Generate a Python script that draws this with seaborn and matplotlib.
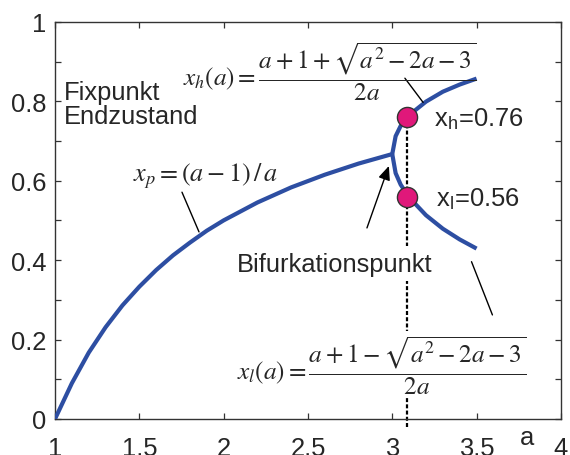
import matplotlib
matplotlib.use("Agg")
import matplotlib.pyplot as plt
from matplotlib.ticker import MultipleLocator
import seaborn as sns
import pandas as pd

# Fixed point branch x_p = (a-1)/a up to the bifurcation at a = 3
a_fix = [1.0, 1.1, 1.2, 1.3, 1.4, 1.5, 1.6, 1.7, 1.8, 1.9, 2.0, 2.2, 2.4, 2.6, 2.8, 3.0]
x_fix = [0.0, 0.09, 0.167, 0.231, 0.286, 0.333, 0.375, 0.412, 0.444, 0.474, 0.5,
         0.545, 0.583, 0.615, 0.643, 0.667]

# Period-2 branches after the bifurcation
a_branch = [3.0, 3.02, 3.05, 3.1, 3.2, 3.3, 3.4, 3.5]
x_high = [0.667, 0.712, 0.738, 0.765, 0.799, 0.824, 0.842, 0.857]
x_low = [0.667, 0.619, 0.59, 0.558, 0.513, 0.479, 0.452, 0.429]

# Marked states at one parameter value
a_mark = 3.09
x_marks = [0.76, 0.56]
mark_names = ["h", "l"]

x_ticks = [1, 1.5, 2, 2.5, 3, 3.5, 4]
x_tick_labels = ["1", "1.5", "2", "2.5", "3", "3.5", "4"]
y_ticks = [0, 0.2, 0.4, 0.6, 0.8, 1]
y_tick_labels = ["0", "0.2", "0.4", "0.6", "0.8", "1"]

sns.set_theme(style="ticks")
plt.rcParams["font.family"] = ["Liberation Sans", "DejaVu Sans"]
plt.rcParams["mathtext.fontset"] = "stix"

BLUE = "#2D4EA2"
PINK = "#E0187A"
SANS = 18.4
MATH = 18.2

fig = plt.figure(figsize=(5.7, 4.56), dpi=100)
ax = fig.add_axes([0.0965, 0.079, 0.8875, 0.871])

df_fix = pd.DataFrame({"a": a_fix, "x": x_fix})
df_hi = pd.DataFrame({"a": a_branch, "x": x_high})
df_lo = pd.DataFrame({"a": a_branch, "x": x_low})
for d in (df_fix, df_hi, df_lo):
    sns.lineplot(data=d, x="a", y="x", ax=ax, color=BLUE, lw=3.0,
                 estimator=None, sort=False, zorder=3,
                 solid_capstyle="butt", solid_joinstyle="miter")

# dashed guide at the marked parameter value
ax.plot([a_mark, a_mark], [-0.02, max(x_marks)], color="black", lw=1.6,
        ls=(0, (1.8, 1.0)), zorder=1, clip_on=False)

df_marks = pd.DataFrame({"a": [a_mark] * len(x_marks), "x": x_marks})
sns.scatterplot(data=df_marks, x="a", y="x", ax=ax, s=14.5 ** 2, color=PINK,
                edgecolor="#333333", linewidth=1.0, zorder=5)

for name, val, dx in zip(mark_names, x_marks, [0.157, 0.172]):
    ax.text(a_mark + dx, val - 0.022, rf"x$_\mathregular{{{name}}}$={val:.2f}",
            fontsize=SANS, ha="left", va="baseline", zorder=6)

ax.text(1.053, 0.793, "Fixpunkt\nEndzustand", fontsize=SANS, ha="left",
        va="center", linespacing=1.05)

white = dict(facecolor="white", edgecolor="none", pad=1.5)
ax.text(1.759, 0.876, r"$x_h(a) = \dfrac{a+1+\sqrt{a^2-2a-3}}{2a}$",
        fontsize=MATH, ha="left", va="center", zorder=6)
ax.text(2.079, 0.137, r"$x_l(a) = \dfrac{a+1-\sqrt{a^2-2a-3}}{2a}$",
        fontsize=MATH, ha="left", va="center", zorder=6, bbox=white)
ax.text(1.462, 0.614, r"$x_p = (a-1)\,/\,a$", fontsize=18.8, ha="left",
        va="center", zorder=6)
ax.text(2.079, 0.373, "Bifurkationspunkt", fontsize=SANS, ha="left",
        va="baseline", zorder=6, bbox=dict(facecolor="white", edgecolor="none", pad=4))

# leader lines
for (x0, y0), (x1, y1) in [((1.753, 0.571), (1.854, 0.471)),
                           ((3.075, 0.858), (3.183, 0.797)),
                           ((3.47, 0.396), (3.594, 0.262))]:
    ax.plot([x0, x1], [y0, y1], color="black", lw=1.0, zorder=4)

ax.annotate("", xy=(2.98, 0.637), xytext=(2.85, 0.481),
            arrowprops=dict(arrowstyle="-|>,head_length=0.7,head_width=0.3",
                            color="black", lw=1.0, shrinkA=0, shrinkB=0),
            zorder=6)

ax.set_xlim(1, 4)
ax.set_ylim(0, 1)
ax.set_xticks(x_ticks)
ax.set_xticklabels(x_tick_labels)
ax.set_yticks(y_ticks)
ax.set_yticklabels(y_tick_labels)
ax.yaxis.set_minor_locator(MultipleLocator(0.1))
ax.tick_params(which="both", direction="in", top=True, right=True,
               length=4, width=0.9, color="#333333", labelsize=SANS)
ax.tick_params(axis="x", pad=12)
ax.tick_params(axis="y", pad=6)
ax.set_xlabel("")
ax.set_ylabel("")
ax.text(3.8, -0.063, "a", fontsize=SANS, ha="center", va="baseline")
for s in ax.spines.values():
    s.set_linewidth(1.0)
    s.set_color("#333333")

fig.savefig("out.png", dpi=100)
